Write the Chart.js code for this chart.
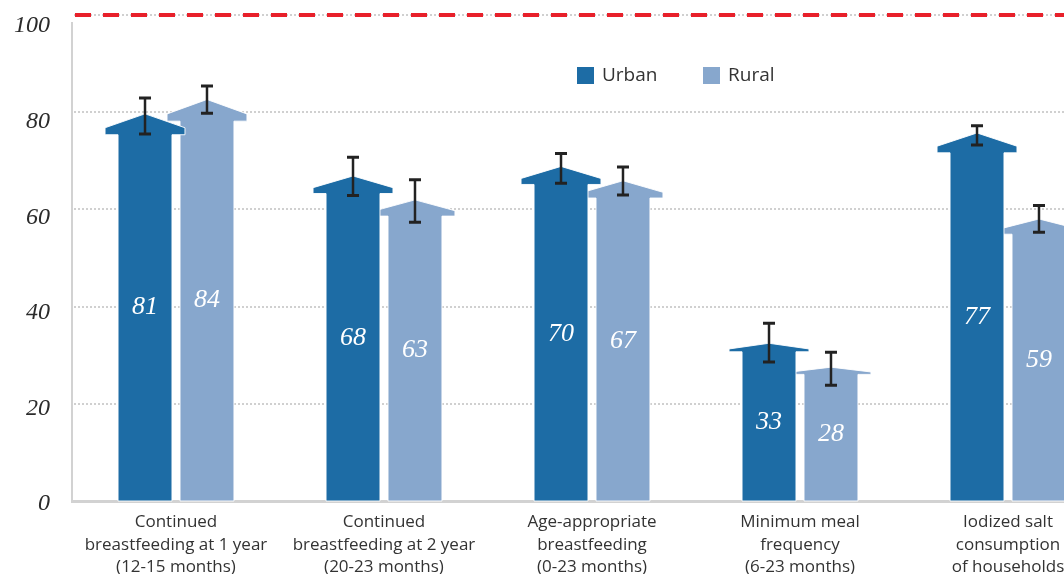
<!DOCTYPE html>
<html lang="en">
<head>
<meta charset="UTF-8">
<title>Feeding indicators, urban vs rural</title>
<script src="https://cdn.jsdelivr.net/npm/chart.js@4.4.1/dist/chart.umd.min.js"></script>
<style>
    html, body { margin: 0; padding: 0; background: #fff; overflow: hidden; }
    #wrap { width: 1124px; height: 574px; }
</style>
</head>
<body>
<div id="wrap"><canvas id="chart" width="1124" height="574"></canvas></div>
<script>
    const categories = [
        ["Continued", "breastfeeding at 1 year", "(12-15 months)"],
        ["Continued", "breastfeeding at 2 year", "(20-23 months)"],
        ["Age-appropriate", "breastfeeding", "(0-23 months)"],
        ["Minimum meal", "frequency", "(6-23 months)"],
        ["Iodized salt", "consumption", "of households"]
    ];
    const urban = [81, 68, 70, 33, 77];
    const rural = [84, 63, 67, 28, 59];
    // confidence intervals
    const urbanLow  = [76.8, 63.9, 66.5, 29.1, 74.5];
    const urbanHigh = [84.3, 71.9, 72.7, 37.2, 78.5];
    const ruralLow  = [81.1, 58.3, 64.0, 24.2, 56.2];
    const ruralHigh = [86.8, 67.2, 69.9, 31.1, 61.8];
    const yTicks = [0, 20, 40, 60, 80, 100];
    const target = 100;

    const urbanColor = "#1d6ca5";
    const ruralColor = "#87a7cd";

    // gridlines in the original sit a touch higher than the tick labels
    const gridStretch = 1.017;

    const gridPlugin = {
        id: "grid",
        beforeDatasetsDraw(chart) {
            const ctx = chart.ctx;
            const y = chart.scales.y;
            const area = chart.chartArea;
            ctx.save();
            ctx.strokeStyle = "#d0d0d0";
            ctx.lineWidth = 2;
            ctx.setLineDash([2, 2]);
            yTicks.forEach(v => {
                if (v === 0) return;
                const py = Math.round(y.getPixelForValue(v * gridStretch));
                ctx.beginPath();
                ctx.moveTo(area.left + 2, py);
                ctx.lineTo(chart.width, py);
                ctx.stroke();
            });
            ctx.restore();
        },
        afterDraw(chart) {
            const ctx = chart.ctx;
            const y = chart.scales.y;
            const py = Math.round(y.getPixelForValue(target * gridStretch));
            ctx.save();
            ctx.strokeStyle = "#e8202a";
            ctx.lineWidth = 4;
            ctx.setLineDash([16, 12]);
            ctx.beginPath();
            ctx.moveTo(chart.chartArea.left + 3, py);
            ctx.lineTo(chart.width, py);
            ctx.stroke();
            ctx.restore();
        }
    };

    // arrow shaped bars: shaft plus a flared head whose height scales with the bar
    const arrowPlugin = {
        id: "arrows",
        beforeDatasetDraw(chart, args) {
            const meta = args.meta;
            if (meta.type !== "bar") return;
            const ctx = chart.ctx;
            const ds = chart.data.datasets[args.index];
            ctx.save();
            ctx.fillStyle = ds.backgroundColor;
            ctx.strokeStyle = "rgba(255,255,255,0.9)";
            ctx.lineWidth = 1;
            meta.data.forEach(bar => {
                const h = bar.base - bar.y;
                const sw = bar.width / 2;
                const hw = sw + 13;
                const tri = h * 0.036;
                const head = h * 0.054;
                ctx.beginPath();
                ctx.moveTo(bar.x - sw, bar.base);
                ctx.lineTo(bar.x - sw, bar.y + head);
                ctx.lineTo(bar.x - hw, bar.y + head);
                ctx.lineTo(bar.x - hw, bar.y + tri);
                ctx.lineTo(bar.x, bar.y);
                ctx.lineTo(bar.x + hw, bar.y + tri);
                ctx.lineTo(bar.x + hw, bar.y + head);
                ctx.lineTo(bar.x + sw, bar.y + head);
                ctx.lineTo(bar.x + sw, bar.base);
                ctx.closePath();
                ctx.fill();
                ctx.stroke();
            });
            ctx.restore();
            return false;
        },
        afterDatasetsDraw(chart) {
            const ctx = chart.ctx;
            const y = chart.scales.y;
            const lows = [urbanLow, ruralLow];
            const highs = [urbanHigh, ruralHigh];
            ctx.save();
            // values inside the bars
            ctx.fillStyle = "#ffffff";
            ctx.font = "italic 26px 'Liberation Serif', serif";
            ctx.textAlign = "center";
            ctx.textBaseline = "middle";
            chart.data.datasets.forEach((ds, di) => {
                chart.getDatasetMeta(di).data.forEach((bar, i) => {
                    ctx.fillText(String(ds.data[i]), bar.x, (bar.y + bar.base) / 2);
                });
            });
            // error bars
            ctx.strokeStyle = "#222222";
            ctx.lineWidth = 2.5;
            chart.data.datasets.forEach((ds, di) => {
                chart.getDatasetMeta(di).data.forEach((bar, i) => {
                    const top = y.getPixelForValue(highs[di][i]);
                    const bot = y.getPixelForValue(lows[di][i]);
                    ctx.beginPath();
                    ctx.moveTo(bar.x, top);
                    ctx.lineTo(bar.x, bot);
                    ctx.stroke();
                    ctx.lineWidth = 3;
                    ctx.beginPath();
                    ctx.moveTo(bar.x - 6, top);
                    ctx.lineTo(bar.x + 6, top);
                    ctx.moveTo(bar.x - 6, bot);
                    ctx.lineTo(bar.x + 6, bot);
                    ctx.stroke();
                    ctx.lineWidth = 2.5;
                });
            });
            // legend
            ctx.font = "19px 'Open Sans', sans-serif";
            ctx.textAlign = "left";
            let lx = 577;
            chart.data.datasets.forEach(ds => {
                ctx.fillStyle = ds.backgroundColor;
                ctx.fillRect(lx, 67, 17, 17);
                ctx.fillStyle = "#333333";
                ctx.fillText(ds.label, lx + 25, 76);
                lx += 126;
            });
            ctx.restore();
        }
    };

    new Chart(document.getElementById("chart"), {
        type: "bar",
        data: {
            labels: categories,
            datasets: [
                { label: "Urban", data: urban, backgroundColor: urbanColor,
                  categoryPercentage: 0.596, barPercentage: 0.87 },
                { label: "Rural", data: rural, backgroundColor: ruralColor,
                  categoryPercentage: 0.596, barPercentage: 0.87 }
            ]
        },
        options: {
            responsive: false,
            animation: false,
            layout: { padding: { top: 0, right: 12, left: 0, bottom: 0 } },
            plugins: {
                legend: { display: false },
                tooltip: { enabled: false }
            },
            scales: {
                x: {
                    grid: { display: false, drawTicks: false },
                    border: { display: true, color: "#d2d2d2", width: 3 },
                    ticks: {
                        color: "#333333",
                        font: { family: "'Open Sans', sans-serif", size: 17, lineHeight: 1.33 },
                        padding: 10,
                        autoSkip: false,
                        maxRotation: 0
                    },
                    afterFit(scale) { scale.height = 73; }
                },
                y: {
                    min: 0,
                    max: 100,
                    grid: { display: false, drawTicks: false },
                    border: { display: true, color: "#d2d2d2", width: 2 },
                    ticks: {
                        stepSize: 20,
                        color: "#2b2b2b",
                        font: { family: "'Liberation Serif', serif", style: "italic", size: 24 },
                        padding: 22,
                        labelOffset: 3
                    },
                    afterFit(scale) {
                        scale.width = 72;
                        scale.paddingTop = 23;
                        scale.paddingBottom = 0;
                    }
                }
            }
        },
        plugins: [gridPlugin, arrowPlugin]
    });
</script>
</body>
</html>
